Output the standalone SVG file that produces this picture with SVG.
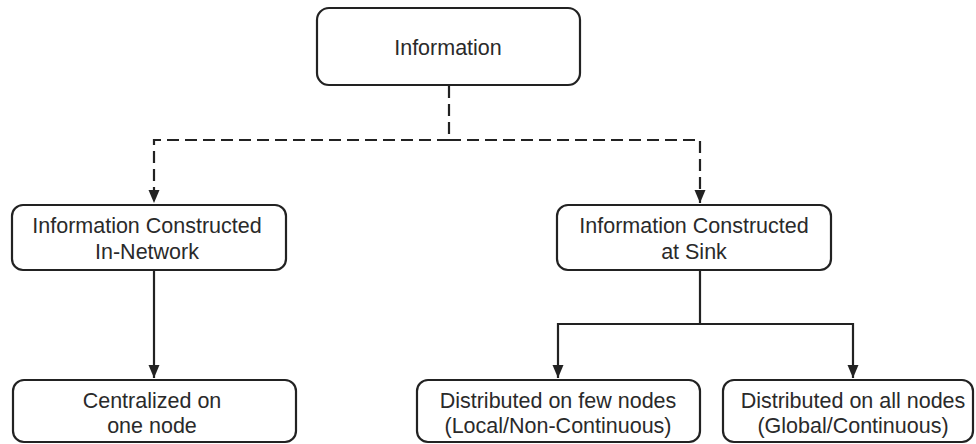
<svg xmlns="http://www.w3.org/2000/svg" width="976" height="444" viewBox="0 0 976 444">
<style>
.box{fill:#fff;stroke:#222;stroke-width:2.2}
.lbl{font-family:"Liberation Sans",Arial,sans-serif;font-size:21.5px;fill:#2a2a2a;text-anchor:middle}
.ln{fill:none;stroke:#222;stroke-width:2.2}
.dash{stroke-dasharray:12 6}
</style>
<defs>
<marker id="ah" markerUnits="userSpaceOnUse" markerWidth="14" markerHeight="14" viewBox="0 0 14 14" refX="13" refY="7" orient="auto">
<path d="M0,1.5 L13,7 L0,12.5 Z" fill="#222"/>
</marker>
</defs>
<rect width="976" height="444" fill="#fff"/>
<g id="connectors">
<path class="ln dash" d="M449,86 V140 H154 V203" marker-end="url(#ah)"/>
<path class="ln dash" d="M449,140 H700 V203" marker-end="url(#ah)"/>
<path class="ln" d="M154,271 V378" marker-end="url(#ah)"/>
<path class="ln" d="M700,271 V324 H558 V378" marker-end="url(#ah)"/>
<path class="ln" d="M700,324 H853 V378" marker-end="url(#ah)"/>
</g>
<g id="information">
<rect class="box" x="317" y="8" width="263" height="77" rx="12"/>
<text class="lbl" x="448" y="55">Information</text>
</g>
<g id="in-network">
<rect class="box" x="12" y="205" width="274" height="65" rx="11"/>
<text class="lbl" x="147" y="233">Information Constructed</text>
<text class="lbl" x="147" y="259">In-Network</text>
</g>
<g id="at-sink">
<rect class="box" x="557" y="205" width="274" height="65" rx="11"/>
<text class="lbl" x="694" y="233">Information Constructed</text>
<text class="lbl" x="694" y="259">at Sink</text>
</g>
<g id="centralized">
<rect class="box" x="13" y="380" width="283" height="62" rx="11"/>
<text class="lbl" x="152" y="408">Centralized on</text>
<text class="lbl" x="152" y="433">one node</text>
</g>
<g id="few-nodes">
<rect class="box" x="417" y="380" width="283" height="62" rx="11"/>
<text class="lbl" x="558" y="408">Distributed on few nodes</text>
<text class="lbl" x="558" y="433">(Local/Non-Continuous)</text>
</g>
<g id="all-nodes">
<rect class="box" x="723" y="380" width="250" height="62" rx="11"/>
<text class="lbl" x="853" y="408">Distributed on all nodes</text>
<text class="lbl" x="853" y="433">(Global/Continuous)</text>
</g>
</svg>
